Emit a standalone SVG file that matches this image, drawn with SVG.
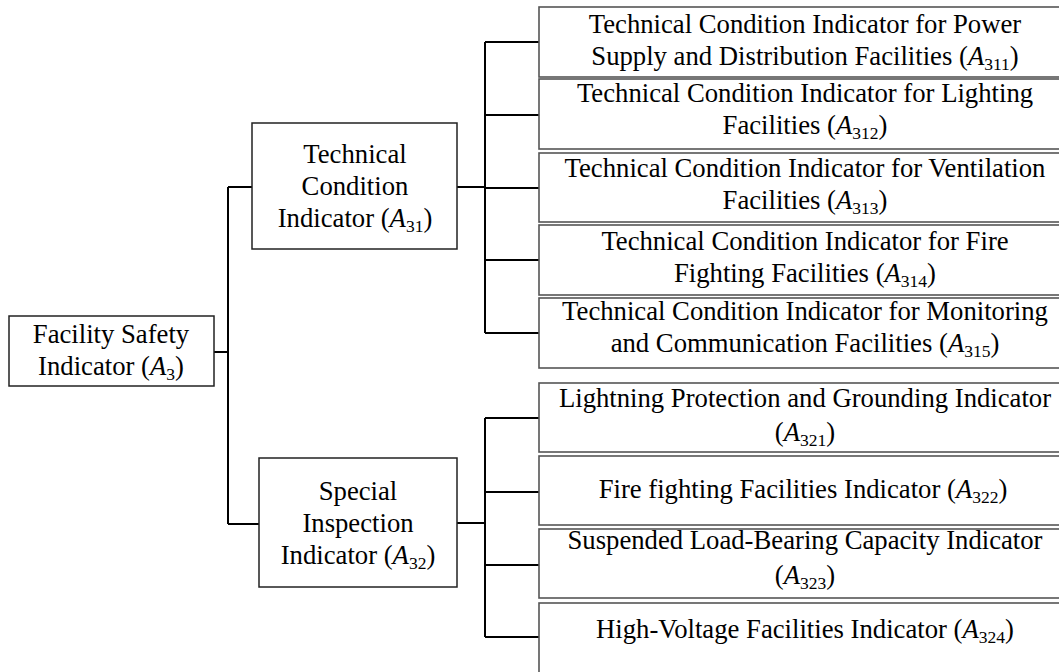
<svg xmlns="http://www.w3.org/2000/svg" width="1059" height="672" viewBox="0 0 1059 672">
<style>
  text { font-family: "Liberation Serif", "Times New Roman", serif; font-size: 26.7px; fill: #000; text-anchor: middle; }
  .box { fill: #fff; stroke: #222; stroke-width: 1.5; }
  .rbox { fill: #fff; stroke: #555; stroke-width: 1.6; }
  .conn { fill: none; stroke: #000; stroke-width: 2; }
  .i { font-style: italic; }
  .s { font-size: 17.5px; }
</style>
<rect width="1059" height="672" fill="#fff"/>
<g id="connectors">
  <path class="conn" d="M214,352 H228 M228,187 V524 M228,187 H252 M228,524 H259"/>
  <path class="conn" d="M457,187 H485 M485,42 V333 M485,42 H539 M485,115 H539 M485,188 H539 M485,260 H539 M485,333 H539"/>
  <path class="conn" d="M457,523 H485 M485,418 V637 M485,418 H539 M485,492 H539 M485,565 H539 M485,637 H539"/>
</g>
<g id="A3">
  <rect class="box" x="9" y="316" width="205" height="70"/>
  <text x="111" y="343">Facility Safety</text>
  <text x="111" y="375">Indicator (<tspan class="i">A</tspan><tspan class="s" dy="5">3</tspan><tspan dy="-5">)</tspan></text>
</g>
<g id="A31">
  <rect class="box" x="252" y="123" width="205" height="126"/>
  <text x="355" y="163">Technical</text>
  <text x="355" y="195">Condition</text>
  <text x="355" y="227">Indicator (<tspan class="i">A</tspan><tspan class="s" dy="5">31</tspan><tspan dy="-5">)</tspan></text>
</g>
<g id="A32">
  <rect class="box" x="259" y="458" width="198" height="129"/>
  <text x="358" y="500">Special</text>
  <text x="358" y="532">Inspection</text>
  <text x="358" y="564">Indicator (<tspan class="i">A</tspan><tspan class="s" dy="5">32</tspan><tspan dy="-5">)</tspan></text>
</g>
<g id="A311">
  <rect class="rbox" x="539" y="7" width="530" height="70"/>
  <text x="805" y="33">Technical Condition Indicator for Power</text>
  <text x="805" y="65">Supply and Distribution Facilities (<tspan class="i">A</tspan><tspan class="s" dy="5">311</tspan><tspan dy="-5">)</tspan></text>
</g>
<g id="A312">
  <rect class="rbox" x="539" y="79" width="530" height="70"/>
  <text x="805" y="102">Technical Condition Indicator for Lighting</text>
  <text x="805" y="134">Facilities (<tspan class="i">A</tspan><tspan class="s" dy="5">312</tspan><tspan dy="-5">)</tspan></text>
</g>
<g id="A313">
  <rect class="rbox" x="539" y="153" width="530" height="69"/>
  <text x="805" y="177">Technical Condition Indicator for Ventilation</text>
  <text x="805" y="209">Facilities (<tspan class="i">A</tspan><tspan class="s" dy="5">313</tspan><tspan dy="-5">)</tspan></text>
</g>
<g id="A314">
  <rect class="rbox" x="539" y="225" width="530" height="70"/>
  <text x="805" y="250">Technical Condition Indicator for Fire</text>
  <text x="805" y="282">Fighting Facilities (<tspan class="i">A</tspan><tspan class="s" dy="5">314</tspan><tspan dy="-5">)</tspan></text>
</g>
<g id="A315">
  <rect class="rbox" x="539" y="298" width="530" height="70"/>
  <text x="805" y="320">Technical Condition Indicator for Monitoring</text>
  <text x="805" y="352">and Communication Facilities (<tspan class="i">A</tspan><tspan class="s" dy="5">315</tspan><tspan dy="-5">)</tspan></text>
</g>
<g id="A321">
  <rect class="rbox" x="539" y="383" width="530" height="69"/>
  <text x="805" y="407">Lightning Protection and Grounding Indicator</text>
  <text x="805" y="441">(<tspan class="i">A</tspan><tspan class="s" dy="5">321</tspan><tspan dy="-5">)</tspan></text>
</g>
<g id="A322">
  <rect class="rbox" x="539" y="456" width="530" height="69"/>
  <text x="803" y="498">Fire fighting Facilities Indicator (<tspan class="i">A</tspan><tspan class="s" dy="5">322</tspan><tspan dy="-5">)</tspan></text>
</g>
<g id="A323">
  <rect class="rbox" x="539" y="529" width="530" height="69"/>
  <text x="805" y="549">Suspended Load-Bearing Capacity Indicator</text>
  <text x="805" y="584">(<tspan class="i">A</tspan><tspan class="s" dy="5">323</tspan><tspan dy="-5">)</tspan></text>
</g>
<g id="A324">
  <rect class="rbox" x="539" y="603" width="530" height="80"/>
  <text x="805" y="638">High-Voltage Facilities Indicator (<tspan class="i">A</tspan><tspan class="s" dy="5">324</tspan><tspan dy="-5">)</tspan></text>
</g>
</svg>
